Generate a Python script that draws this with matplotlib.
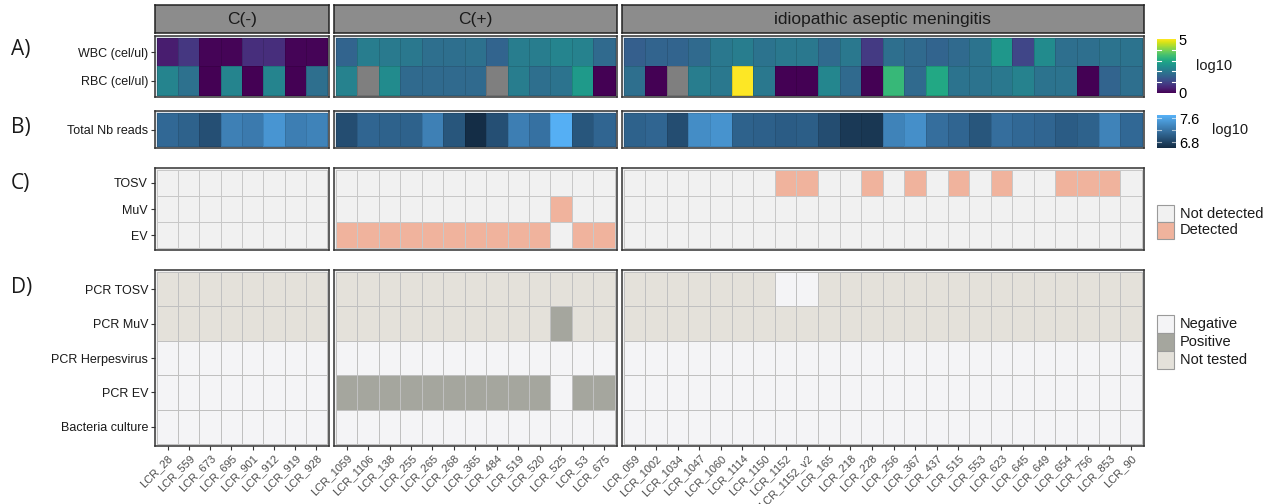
import numpy as np
import matplotlib
matplotlib.use('Agg')
import matplotlib.pyplot as plt
from matplotlib.colors import ListedColormap, LinearSegmentedColormap, Normalize
from matplotlib.cm import ScalarMappable
from matplotlib.patches import Rectangle

plt.rcParams['font.family'] = ['Liberation Sans', 'DejaVu Sans']

nan = np.nan

group_names = ['C(-)', 'C(+)', 'idiopathic aseptic meningitis']

samples_neg = ['LCR_28', 'LCR_559', 'LCR_673', 'LCR_695', 'LCR_901', 'LCR_912', 'LCR_919', 'LCR_928']
samples_pos = ['LCR_1059', 'LCR_1106', 'LCR_138', 'LCR_255', 'LCR_265', 'LCR_268', 'LCR_365',
               'LCR_484', 'LCR_519', 'LCR_520', 'LCR_525', 'LCR_53', 'LCR_675']
samples_iam = ['LCR_059', 'LCR_1002', 'LCR_1034', 'LCR_1047', 'LCR_1060', 'LCR_1114', 'LCR_1150',
               'LCR_1152', 'LCR_1152_v2', 'LCR_165', 'LCR_218', 'LCR_228', 'LCR_256', 'LCR_367',
               'LCR_437', 'LCR_515', 'LCR_553', 'LCR_623', 'LCR_645', 'LCR_649', 'LCR_654',
               'LCR_756', 'LCR_853', 'LCR_90']

# log10 cell counts (cel/ul), nan = not available
wbc_neg = [0.4, 0.8, 0.05, 0.05, 0.65, 0.65, 0.05, 0.05]
rbc_neg = [2.25, 1.85, 0.0, 2.25, 0.0, 2.25, 0.0, 1.8]
wbc_pos = [1.6, 2.1, 2.05, 2.0, 1.8, 1.8, 1.85, 1.6, 2.1, 2.1, 2.25, 2.2, 1.7]
rbc_pos = [2.2, nan, 2.4, 1.7, 1.7, 1.7, 1.7, nan, 2.1, 1.8, 1.9, 2.7, 0.0]
wbc_iam = [1.5, 1.6, 1.6, 1.7, 2.0, 2.1, 1.9, 2.0, 2.0, 1.7, 2.0, 0.85, 1.8, 1.7, 1.6, 1.7,
           1.9, 2.65, 1.05, 2.4, 1.8, 1.8, 1.9, 1.9]
rbc_iam = [1.8, 0.0, nan, 2.1, 2.0, 5.0, 2.0, 0.0, 0.0, 2.3, 1.7, 0.0, 3.35, 1.7, 3.0, 1.9,
           1.9, 2.0, 2.2, 1.9, 1.9, 0.0, 1.6, 1.8]

# log10 total number of reads
reads_neg = [7.1, 7.05, 6.9, 7.3, 7.25, 7.47, 7.28, 7.32]
reads_pos = [6.88, 7.08, 7.05, 7.05, 7.3, 6.95, 6.62, 6.9, 7.28, 7.18, 7.68, 6.95, 7.08]
reads_iam = [7.05, 7.08, 6.88, 7.4, 7.45, 7.05, 7.03, 7.0, 7.02, 6.88, 6.72, 6.7, 7.32, 7.42,
             7.15, 7.08, 6.95, 7.15, 7.1, 7.08, 7.0, 7.05, 7.32, 7.1]

# metagenomic detection
virus_rows = ['TOSV', 'MuV', 'EV']
tosv_detected = ['LCR_1152', 'LCR_1152_v2', 'LCR_228', 'LCR_367', 'LCR_515', 'LCR_623',
                 'LCR_654', 'LCR_756', 'LCR_853']
muv_detected = ['LCR_525']
ev_detected = ['LCR_1059', 'LCR_1106', 'LCR_138', 'LCR_255', 'LCR_265', 'LCR_268', 'LCR_365',
               'LCR_484', 'LCR_519', 'LCR_520', 'LCR_53', 'LCR_675']

# routine diagnostics
pcr_rows = ['PCR TOSV', 'PCR MuV', 'PCR Herpesvirus', 'PCR EV', 'Bacteria culture']
pcr_levels = ['Negative', 'Positive', 'Not tested']
pcr_tosv_negative = ['LCR_1152', 'LCR_1152_v2']   # everything else not tested
pcr_muv_positive = ['LCR_525']                     # everything else not tested
pcr_ev_positive = ev_detected

groups = [samples_neg, samples_pos, samples_iam]
wbc = [wbc_neg, wbc_pos, wbc_iam]
rbc = [rbc_neg, rbc_pos, rbc_iam]
reads = [reads_neg, reads_pos, reads_iam]

# ---- layout (pixels) ----
W, H = 1274, 504
fig = plt.figure(figsize=(W / 100, H / 100), dpi=100)
fig.patch.set_facecolor('white')


def px_axes(x0, y0, x1, y1):
    return fig.add_axes([x0 / W, 1 - y1 / H, (x1 - x0) / W, (y1 - y0) / H])


col_w, gap, left = 21.75, 5, 155
xspans = []
x = left
for g in groups:
    xspans.append((x, x + len(g) * col_w))
    x += len(g) * col_w + gap

row_spans = {'A': (36, 97), 'B': (111, 148), 'C': (168, 250), 'D': (270, 446)}
strip_span = (5, 33)

viridis = plt.get_cmap('viridis').copy()
viridis.set_bad('#7f7f7f')
cell_norm = Normalize(0, 5)
blues = LinearSegmentedColormap.from_list('reads', ['#132B43', '#56B1F7'])
reads_norm = Normalize(6.6, 7.7)
det_cmap = ListedColormap(['#F1F1F1', '#F0B39D'])
pcr_cmap = ListedColormap(['#F4F4F6', '#A5A69E', '#E4E1DA'])

dark = '#333333'


def heat(ax, mat, cmap, norm, edge, lw, bg, row_h, ylabels=None):
    nr, nc = mat.shape
    ax.pcolormesh(np.arange(nc + 1) - 0.5, np.arange(nr + 1) - 0.5, mat,
                  cmap=cmap, norm=norm, edgecolors=edge, linewidth=lw)
    px = 2.0
    ax.set_xlim(-0.5 - px / col_w, nc - 0.5 + px / col_w)
    ax.set_ylim(nr - 0.5 + px / row_h, -0.5 - px / row_h)
    ax.set_facecolor(bg)
    for s in ax.spines.values():
        s.set_color(dark)
        s.set_linewidth(1.1)
    ax.set_xticks(range(nc))
    ax.set_yticks(range(nr))
    ax.tick_params(length=0, labelleft=False, labelbottom=False)
    if ylabels is not None:
        ax.set_yticklabels(ylabels)
        ax.tick_params(axis='y', length=3, width=0.8, color=dark, labelleft=True,
                       labelsize=9, labelcolor='#1A1A1A', pad=2)


for gi, samples in enumerate(groups):
    x0, x1 = xspans[gi]
    first = gi == 0

    # facet strip
    sax = px_axes(x0, strip_span[0], x1, strip_span[1])
    sax.set_facecolor('#8C8C8C')
    sax.set_xticks([]); sax.set_yticks([])
    for s in sax.spines.values():
        s.set_color('#222222'); s.set_linewidth(1.1)
    sax.text(0.5, 0.48, group_names[gi], ha='center', va='center', fontsize=12.5,
             color='#1A1A1A', transform=sax.transAxes)

    # A) cell counts
    y0, y1 = row_spans['A']
    ax = px_axes(x0, y0, x1, y1)
    mat = np.ma.masked_invalid(np.array([wbc[gi], rbc[gi]], dtype=float))
    heat(ax, mat, viridis, cell_norm, (0, 0, 0, 0.12), 0.6, '#DCE3EA', (y1 - y0) / 2,
         ['WBC (cel/ul)', 'RBC (cel/ul)'] if first else None)

    # B) sequencing depth
    y0, y1 = row_spans['B']
    ax = px_axes(x0, y0, x1, y1)
    mat = np.array([reads[gi]], dtype=float)
    heat(ax, mat, blues, reads_norm, (0, 0, 0, 0.10), 0.6, '#DCE3EA', (y1 - y0),
         ['Total Nb reads'] if first else None)

    # C) metagenomic detection
    y0, y1 = row_spans['C']
    ax = px_axes(x0, y0, x1, y1)
    mat = np.array([[s in tosv_detected for s in samples],
                    [s in muv_detected for s in samples],
                    [s in ev_detected for s in samples]], dtype=float)
    heat(ax, mat, det_cmap, Normalize(-0.5, 1.5), '#C8C8C8', 0.7, '#F1F1F1', (y1 - y0) / 3,
         virus_rows if first else None)

    # D) routine diagnostics
    y0, y1 = row_spans['D']
    ax = px_axes(x0, y0, x1, y1)
    codes = np.array([
        [0 if s in pcr_tosv_negative else 2 for s in samples],
        [1 if s in pcr_muv_positive else 2 for s in samples],
        [0 for s in samples],
        [1 if s in pcr_ev_positive else 0 for s in samples],
        [0 for s in samples],
    ], dtype=float)
    heat(ax, codes, pcr_cmap, Normalize(-0.5, 2.5), '#C0C0C0', 0.7, '#F2F2F2', (y1 - y0) / 5,
         pcr_rows if first else None)
    ax.set_xticklabels(samples, rotation=45, ha='right', va='top', rotation_mode='anchor')
    ax.tick_params(axis='x', length=3, width=0.8, color=dark, labelbottom=True,
                   labelsize=8, labelcolor='#4D4D4D', pad=2)

# panel letters
for letter, y in [('A)', 49), ('B)', 128), ('C)', 183), ('D)', 287)]:
    fig.text(11 / W, 1 - y / H, letter, fontsize=15, ha='left', va='center',
             family=['Open Sans', 'DejaVu Sans'], color='#1A1A1A')

# colour bars
cax = px_axes(1157, 39, 1176, 93)
cb = fig.colorbar(ScalarMappable(cell_norm, viridis), cax=cax, ticks=[0, 5])
cb.outline.set_visible(False)
cax.tick_params(length=0, labelsize=10.5, pad=2)
for v in [1, 2, 3, 4]:
    cax.plot([0, 0.22], [v, v], color='white', lw=0.8)
    cax.plot([0.78, 1], [v, v], color='white', lw=0.8)
fig.text(1196 / W, 1 - 66 / H, 'log10', fontsize=10.5, va='center', color='#1A1A1A')

bax = px_axes(1157, 115, 1176, 148)
cb2 = fig.colorbar(ScalarMappable(reads_norm, blues), cax=bax, ticks=[6.8, 7.6])
cb2.outline.set_visible(False)
bax.tick_params(length=0, labelsize=10.5, pad=2)
for v in [6.8, 7.2, 7.6]:
    bax.plot([0, 0.22], [v, v], color='white', lw=0.8, alpha=0.6)
    bax.plot([0.78, 1], [v, v], color='white', lw=0.8, alpha=0.6)
fig.text(1212 / W, 1 - 130 / H, 'log10', fontsize=10.5, va='center', color='#1A1A1A')


def legend_block(top, labels, colors, box_h=17):
    for i, (lab, col) in enumerate(zip(labels, colors)):
        yb = top + i * box_h
        fig.add_artist(Rectangle((1157 / W, 1 - (yb + box_h) / H), 17 / W, box_h / H,
                                 transform=fig.transFigure, facecolor=col,
                                 edgecolor='#9A9A9A', linewidth=0.8))
        fig.text(1180 / W, 1 - (yb + box_h / 2) / H, lab, fontsize=10.5, va='center',
                 color='#1A1A1A')


legend_block(205, ['Not detected', 'Detected'], det_cmap.colors)
legend_block(315, pcr_levels, pcr_cmap.colors, box_h=18)

fig.savefig('out.png', dpi=100, facecolor='white')
